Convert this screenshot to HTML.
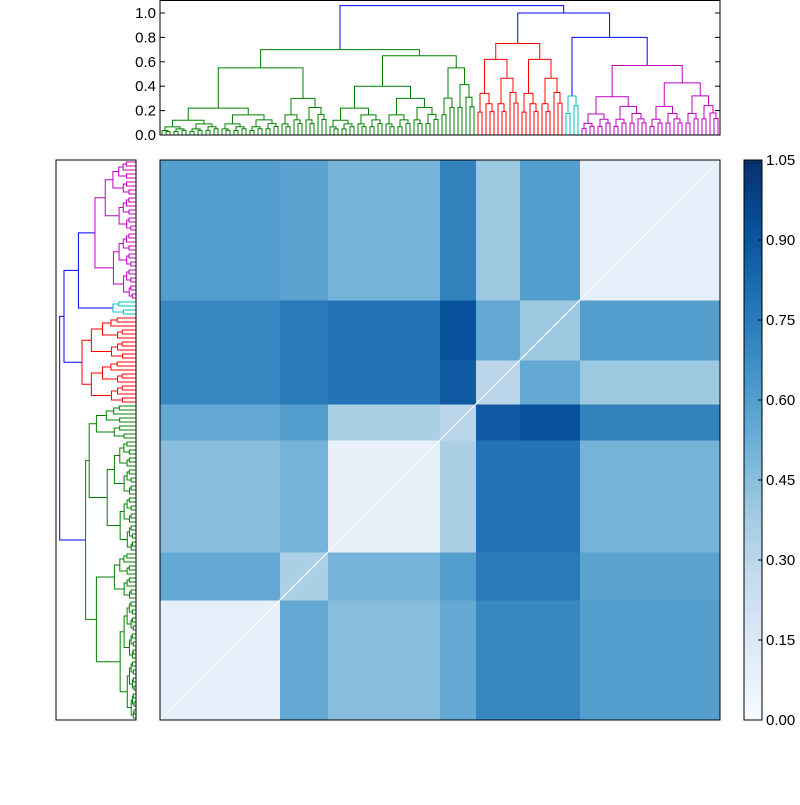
<!DOCTYPE html>
<html><head><meta charset="utf-8"><style>
body{margin:0;background:#fff;font-family:"Liberation Sans",sans-serif}
svg text{font-family:"Liberation Sans",sans-serif;font-size:15px;fill:#000}
</style></head><body>
<svg id="c" width="800" height="800" xmlns="http://www.w3.org/2000/svg"></svg>
<script>
// ---- data ----
const groupNames = ["g1","g2","g3","g4","g5","g6","g7"];
const groupSizes = [30,12,28,9,11,15,35];
const blockValues = [
 [0.10,0.55,0.45,0.55,0.70,0.70,0.60],
 [0.55,0.35,0.50,0.60,0.75,0.75,0.58],
 [0.45,0.50,0.08,0.35,0.78,0.78,0.50],
 [0.55,0.60,0.35,0.30,0.88,0.92,0.72],
 [0.70,0.75,0.78,0.88,0.30,0.55,0.40],
 [0.70,0.75,0.78,0.92,0.55,0.40,0.60],
 [0.60,0.58,0.50,0.72,0.40,0.60,0.10]
];
const cbTicks = [0,0.15,0.30,0.45,0.60,0.75,0.90,1.05];
const topTicks = [0,0.2,0.4,0.6,0.8,1.0];
const tree = {h:1.06,col:"#0000ff",c:[
  {h:0.70,col:"#008000",c:[
    {h:0.55,col:"#008000",c:[{n:30,h:0.22,col:"#008000"},{n:12,h:0.30,col:"#008000"}]},
    {h:0.65,col:"#008000",c:[{n:28,h:0.40,col:"#008000"},{n:9,h:0.55,col:"#008000"}]}]},
  {h:1.00,col:"#0000ff",c:[
    {h:0.75,col:"#ff0000",c:[{n:11,h:0.62,col:"#ff0000"},{n:11,h:0.62,col:"#ff0000"}]},
    {h:0.80,col:"#0000ff",c:[{n:4,h:0.32,col:"#00bfbf"},{n:35,h:0.57,col:"#bf00bf"}]}]}]};

// ---- geometry ----
const svg=document.getElementById('c');
const NS="http://www.w3.org/2000/svg";
function mk(t,a,p){const e=document.createElementNS(NS,t);for(const k in a)e.setAttribute(k,a[k]);(p||svg).appendChild(e);return e;}
const HX0=160,HY0=160,HS=560,N=groupSizes.reduce((a,b)=>a+b,0),cell=HS/N;
const stops=["#f7fbff","#deebf7","#c6dbef","#9ecae1","#6baed6","#4292c6","#2171b5","#08519c","#08306b"];
function hex(c){return[1,3,5].map(i=>parseInt(c.substr(i,2),16));}
function cmap(v){let t=Math.max(0,Math.min(1,v/1.05))*8;let i=Math.min(7,Math.floor(t)),f=t-i;const a=hex(stops[i]),b=hex(stops[i+1]);return"rgb("+a.map((x,k)=>Math.round(x+(b[k]-x)*f)).join(",")+")";}

const hm=mk('g',{});  
let starts=[];let s=0;groupSizes.forEach(n=>{starts.push(s);s+=n;});
for(let i=0;i<groupSizes.length;i++)for(let j=0;j<groupSizes.length;j++){
  const x=HX0+starts[j]*cell, w=groupSizes[j]*cell;
  const y=HY0+HS-(starts[i]+groupSizes[i])*cell, h=groupSizes[i]*cell;
  const r=mk('rect',{x:x,y:y,width:w+0.5,height:h+0.5,fill:cmap(blockValues[i][j])},hm);
  
  
}
const dg=mk('line',{x1:HX0,y1:HY0+HS,x2:HX0+HS,y2:HY0,stroke:"#f7fbff","stroke-width":1.2});

const hb=mk('rect',{x:HX0,y:HY0,width:HS,height:HS,fill:"none",stroke:"#000"});


function expand(nd){
  if(nd.c)return{h:nd.h,col:nd.col,c:nd.c.map(expand)};
  return split(nd.n,nd.h,nd.col);
}
function split(n,h,col){
  if(n==1)return{leaf:true};
  const a=Math.floor(n/2),b=n-a;
  const ch=(m,f)=>m==1?{leaf:true}:split(m,h*f,col);
  return{h:h,col:col,c:[ch(a,0.55),ch(b,0.75)]};
}
const T=expand(tree);
let li=0;
function place(nd){
  if(nd.leaf){nd.p=li+0.5;li++;nd.h=0;return;}
  nd.c.forEach(place);
  nd.p=(nd.c[0].p+nd.c[1].p)/2;
}
place(T);
function drawTree(nd,g,P){
  if(nd.leaf)return;
  const [a,b]=nd.c;
  const pts=[P(a.p,a.h),P(a.p,nd.h),P(b.p,nd.h),P(b.p,b.h)];
  mk('polyline',{points:pts.map(q=>q.join(',')).join(' '),fill:"none",stroke:nd.col,"stroke-width":1},g);
  nd.c.forEach(c=>drawTree(c,g,P));
}
const TY0=135,TS=122;
const tg=mk('g',{});
drawTree(T,tg,(p,h)=>[HX0+p*cell,TY0-h*TS]);
const tb=mk('rect',{x:HX0,y:0.5,width:HS,height:TY0-0.5,fill:"none",stroke:"#000"});

topTicks.forEach(v=>{
  const y=TY0-v*TS;
  mk('line',{x1:HX0,y1:y,x2:HX0+5,y2:y,stroke:"#000"});
  mk('line',{x1:HX0+HS,y1:y,x2:HX0+HS-5,y2:y,stroke:"#000"});
  const t=mk('text',{x:HX0-4,y:y+5,"text-anchor":"end"});t.textContent=v.toFixed(1);
  
});
const LX0=136,LS=72;
const lg=mk('g',{});
drawTree(T,lg,(p,h)=>[LX0-h*LS,HY0+HS-p*cell]);
const lb=mk('rect',{x:56,y:HY0,width:80,height:HS,fill:"none",stroke:"#000"});


const CX=744,CW=18;
const cg=mk('g',{});
for(let k=0;k<HS;k+=2){mk('rect',{x:CX,y:HY0+HS-k-2,width:CW,height:2.5,fill:cmap(k/HS*1.05)},cg);}
mk('rect',{x:CX,y:HY0,width:CW,height:HS,fill:"none",stroke:"#000"},cg);
cbTicks.forEach(v=>{
  const y=HY0+HS-v/1.05*HS;
  mk('line',{x1:CX+CW-4,y1:y,x2:CX+CW,y2:y,stroke:"#000"},cg);
  const t=mk('text',{x:CX+CW+4,y:y+5},cg);t.textContent=v.toFixed(2);
  
});
</script>
</body></html>
